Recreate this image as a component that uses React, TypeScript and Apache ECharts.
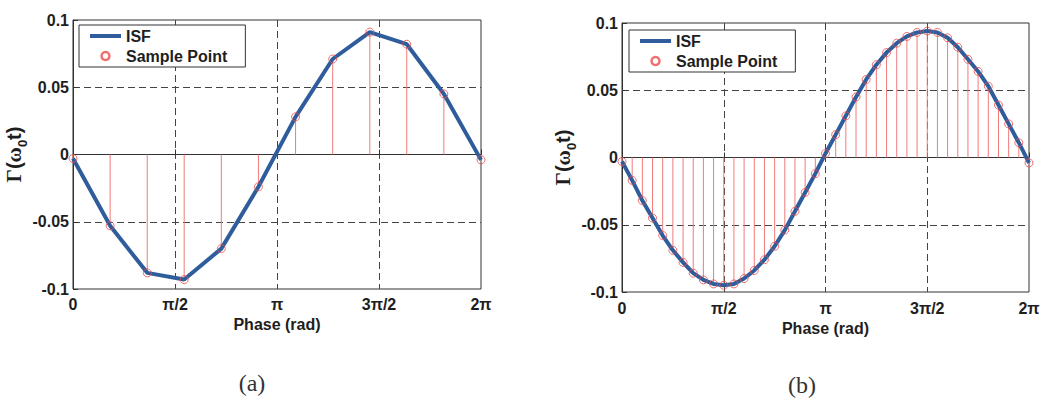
import React, { useEffect, useRef } from 'react';
import * as echarts from 'echarts';

// Phase is expressed in units of π (0 … 2 ⇒ 0 … 2π)
const phaseTickLabels = ['0', 'π/2', 'π', '3π/2', '2π'];

// (a) 12 sample points
const phaseA = [0, 0.182, 0.364, 0.545, 0.727, 0.909, 1.091, 1.273, 1.455, 1.636, 1.818, 2.0];
const isfA = [-0.003, -0.053, -0.088, -0.093, -0.070, -0.024, 0.028, 0.071, 0.091, 0.082, 0.045, -0.004];

// (b) 41 sample points
const phaseB = [
  0, 0.05, 0.1, 0.15, 0.2, 0.25, 0.3, 0.35, 0.4, 0.45,
  0.5, 0.55, 0.6, 0.65, 0.7, 0.75, 0.8, 0.85, 0.9, 0.95,
  1.0, 1.05, 1.1, 1.15, 1.2, 1.25, 1.3, 1.35, 1.4, 1.45,
  1.5, 1.55, 1.6, 1.65, 1.7, 1.75, 1.8, 1.85, 1.9, 1.95, 2.0,
];
const isfB = [
  -0.003, -0.017, -0.032, -0.045, -0.058, -0.069, -0.078, -0.086, -0.091, -0.094,
  -0.095, -0.094, -0.090, -0.084, -0.076, -0.066, -0.054, -0.040, -0.026, -0.012,
  0.003, 0.017, 0.031, 0.045, 0.058, 0.069, 0.078, 0.085, 0.090, 0.093,
  0.094, 0.093, 0.089, 0.082, 0.073, 0.064, 0.053, 0.039, 0.025, 0.011, -0.004,
];

const seriesNames = ['ISF', 'Sample Point'];
const panelLabels = ['(a)', '(b)'];
const xAxisName = 'Phase (rad)';

const FONT = "'Liberation Sans', Arial, Helvetica, sans-serif";
const SERIF = "'Liberation Serif', 'Times New Roman', serif";
const BLUE = '#2f5d9c';
const RED = '#ec4b4b';
const STEM = '#f27a7a';
const INK = '#1e1e1e';
const FRAME = '#333';
const GRIDLINE = '#444';

const pairs = (xs: number[], ys: number[]) => xs.map((x, i) => [x, ys[i]]);

function xAxisFor(gridIndex: number, labelMargin: number) {
  return {
    type: 'value',
    gridIndex,
    min: 0,
    max: 2,
    interval: 0.5,
    name: xAxisName,
    nameLocation: 'middle',
    nameGap: 27,
    nameTextStyle: { fontFamily: FONT, fontWeight: 'bold', fontSize: 16, color: INK },
    axisLine: { show: true, lineStyle: { color: FRAME, width: 1 } },
    axisTick: { show: true, inside: true, length: 5, lineStyle: { color: FRAME } },
    axisLabel: {
      margin: labelMargin,
      fontFamily: FONT,
      fontWeight: 'bold',
      fontSize: 16,
      color: INK,
      formatter: (v: number) => phaseTickLabels[Math.round(v / 0.5)] ?? '',
    },
    splitLine: {
      show: true,
      showMinLine: false,
      showMaxLine: false,
      lineStyle: { type: [7, 4], color: GRIDLINE, width: 1 },
    },
  };
}

function yAxisFor(gridIndex: number) {
  return {
    type: 'value',
    gridIndex,
    min: -0.1,
    max: 0.1,
    interval: 0.05,
    name: '{g|Γ}{p|(}{g|ω}{s|0}{p|t)}',
    nameLocation: 'middle',
    nameRotate: 90,
    nameGap: 38,
    nameTextStyle: {
      rich: {
        g: { fontFamily: SERIF, fontWeight: 'bold', fontSize: 21, color: INK, lineHeight: 24, verticalAlign: 'top' },
        p: { fontFamily: FONT, fontWeight: 'bold', fontSize: 20, color: INK, lineHeight: 24, verticalAlign: 'top' },
        s: { fontFamily: FONT, fontWeight: 'bold', fontSize: 13, color: INK, lineHeight: 14, padding: [12, 0, 0, 0], verticalAlign: 'top' },
      },
    },
    axisLine: { show: true, lineStyle: { color: FRAME, width: 1 } },
    axisTick: { show: true, inside: true, length: 5, lineStyle: { color: FRAME } },
    axisLabel: { margin: 4, fontFamily: FONT, fontWeight: 'bold', fontSize: 16, color: INK },
    splitLine: {
      show: true,
      showMinLine: false,
      showMaxLine: false,
      lineStyle: { type: [7, 4], color: GRIDLINE, width: 1 },
    },
  };
}

function stemSeries(idx: number, data: number[][]) {
  return {
    type: 'custom',
    name: 'stem',
    xAxisIndex: idx,
    yAxisIndex: idx,
    z: 1,
    silent: true,
    data,
    renderItem: (_p: any, api: any) => {
      const x = api.value(0);
      const y = api.value(1);
      const a = api.coord([x, 0]);
      const b = api.coord([x, y]);
      return {
        type: 'line',
        shape: { x1: a[0], y1: a[1], x2: b[0], y2: b[1] },
        style: { stroke: STEM, lineWidth: 1 },
      };
    },
  };
}

function lineSeries(idx: number, data: number[][]) {
  return {
    type: 'line',
    name: seriesNames[0],
    xAxisIndex: idx,
    yAxisIndex: idx,
    z: 2,
    data,
    color: BLUE,
    symbol: 'none',
    lineStyle: { color: BLUE, width: 4 },
  };
}

function pointSeries(idx: number, data: number[][]) {
  return {
    type: 'scatter',
    name: seriesNames[1],
    xAxisIndex: idx,
    yAxisIndex: idx,
    z: 3,
    data,
    symbol: 'circle',
    symbolSize: 8,
    itemStyle: { color: 'rgba(0,0,0,0)', borderColor: RED, borderWidth: 1 },
  };
}

function legendFor(left: number, top: number) {
  return {
    left,
    top,
    orient: 'vertical',
    backgroundColor: '#fff',
    borderColor: FRAME,
    borderWidth: 1,
    padding: [3, 18, 3, 11],
    itemGap: 4,
    itemWidth: 31,
    itemHeight: 8,
    selectedMode: false,
    textStyle: { fontFamily: FONT, fontWeight: 'bold', fontSize: 16, color: INK },
    data: [
      { name: seriesNames[0], icon: 'path://M0,0L31,0L31,4L0,4Z', itemStyle: { color: BLUE, borderWidth: 0 } },
      { name: seriesNames[1], icon: 'circle', itemStyle: { color: 'rgba(0,0,0,0)', borderColor: RED, borderWidth: 2.5 } },
    ],
  };
}

export default function App() {
  const ref = useRef<HTMLDivElement>(null);

  useEffect(() => {
    if (!ref.current) return;
    const chart = echarts.init(ref.current, undefined, { renderer: 'svg' });
    const dataA = pairs(phaseA, isfA);
    const dataB = pairs(phaseB, isfB);
    chart.setOption({
      animation: false,
      backgroundColor: '#fff',
      textStyle: { fontFamily: FONT },
      grid: [
        { left: 73, top: 20, width: 408, height: 269, show: true, borderColor: FRAME, borderWidth: 1, backgroundColor: 'rgba(0,0,0,0)' },
        { left: 622, top: 23, width: 407, height: 269, show: true, borderColor: FRAME, borderWidth: 1, backgroundColor: 'rgba(0,0,0,0)' },
      ],
      xAxis: [xAxisFor(0, 7), xAxisFor(1, 8)],
      yAxis: [yAxisFor(0), yAxisFor(1)],
      legend: [legendFor(79, 25), legendFor(629, 30)],
      series: [
        stemSeries(0, dataA),
        lineSeries(0, dataA),
        pointSeries(0, dataA),
        stemSeries(1, dataB),
        lineSeries(1, dataB),
        pointSeries(1, dataB),
      ],
      graphic: [
        {
          type: 'text',
          x: 252,
          y: 383,
          style: { text: panelLabels[0], fontFamily: SERIF, fontSize: 24, fill: '#333', align: 'center', verticalAlign: 'middle' },
        },
        {
          type: 'text',
          x: 802,
          y: 385,
          style: { text: panelLabels[1], fontFamily: SERIF, fontSize: 24, fill: '#333', align: 'center', verticalAlign: 'middle' },
        },
      ],
    });
    return () => chart.dispose();
  }, []);

  return (
    <div
      ref={ref}
      style={{ position: 'fixed', left: 0, top: 0, width: 1055, height: 400, background: '#fff' }}
    />
  );
}
